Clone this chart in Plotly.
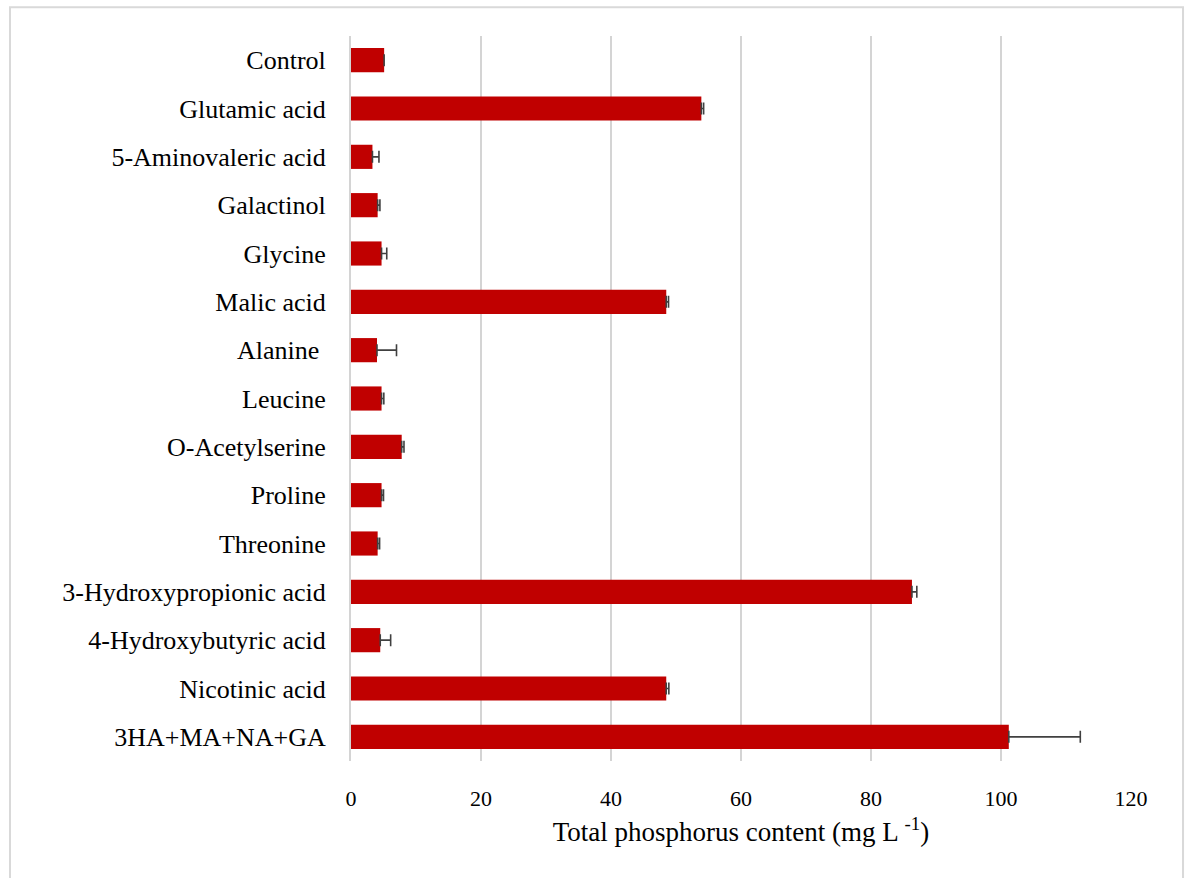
import plotly.graph_objects as go

# Treatments, listed top to bottom
treatments = [
    "Control", "Glutamic acid", "5-Aminovaleric acid", "Galactinol", "Glycine",
    "Malic acid", "Alanine ", "Leucine", "O-Acetylserine", "Proline", "Threonine",
    "3-Hydroxypropionic acid", "4-Hydroxybutyric acid", "Nicotinic acid",
    "3HA+MA+NA+GA",
]
# Total phosphorus content (mg L-1) and standard error (None = no bar drawn)
phosphorus = [5.1, 53.9, 3.3, 4.1, 4.7, 48.5, 4.0, 4.7, 7.8, 4.7, 4.1, 86.3, 4.5, 48.5, 101.2]
std_err = [None, 0.35, 1.0, 0.35, 0.8, 0.35, 3.0, 0.35, 0.35, 0.3, 0.3, 0.75, 1.6, 0.4, 11.0]
x_ticks = [0, 20, 40, 60, 80, 100, 120]

FONT = "Liberation Serif, Times New Roman, serif"

fig = go.Figure(
    go.Bar(
        x=phosphorus,
        y=treatments,
        orientation="h",
        width=0.5,
        marker=dict(color="#C00000", line=dict(width=0)),
        error_x=dict(
            type="data",
            symmetric=False,
            array=std_err,
            arrayminus=[0] * len(std_err),
            color="#404040",
            thickness=1.6,
            width=6,
        ),
    )
)

fig.update_layout(
    width=1186,
    height=878,
    margin=dict(l=351, r=55, t=36, b=117),
    paper_bgcolor="white",
    plot_bgcolor="white",
    showlegend=False,
    font=dict(family=FONT, size=24, color="#000000"),
    xaxis=dict(
        range=[0, 120],
        tickvals=x_ticks,
        ticktext=[str(v) for v in x_ticks],
        showgrid=True,
        gridcolor="#D4D4D4",
        gridwidth=1.5,
        zeroline=False,
        showline=False,
        ticks="",
        ticklabelstandoff=22,
        tickfont=dict(family=FONT, size=22),
        title=dict(
            text="Total phosphorus content (mg L <sup>-1</sup>)",
            font=dict(family=FONT, size=27),
            standoff=12,
        ),
    ),
    yaxis=dict(
        categoryorder="array",
        categoryarray=treatments,
        autorange="reversed",
        showgrid=False,
        zeroline=False,
        showline=True,
        linecolor="#D4D4D4",
        linewidth=2,
        ticks="",
        ticklabelstandoff=18,
        tickfont=dict(family=FONT, size=26),
    ),
    shapes=[
        dict(
            type="rect",
            xref="paper",
            yref="paper",
            x0=-0.4372,
            x1=1.0667,
            y0=-0.3,
            y1=1.0397,
            line=dict(color="#D9D9D9", width=2),
            fillcolor="rgba(0,0,0,0)",
            layer="below",
        )
    ],
)

fig.write_html("out.html")
